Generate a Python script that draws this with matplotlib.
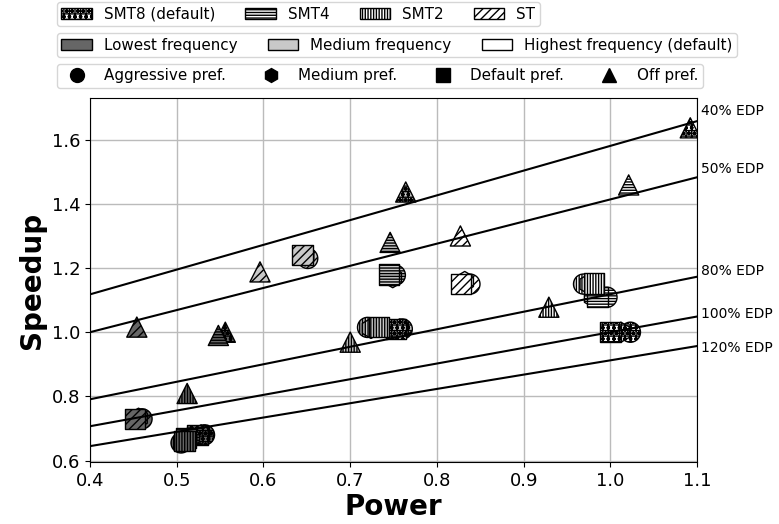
import numpy as np
import matplotlib.pyplot as plt
from matplotlib.patches import Patch
from matplotlib.lines import Line2D

# SMT levels, frequencies, prefetch settings
smt_names = ['SMT8 (default)', 'SMT4', 'SMT2', 'ST']
smt_hatch = ['+++ooo', '------', '||||||', '////']
freq_names = ['Lowest frequency', 'Medium frequency', 'Highest frequency (default)']
freq_color = ['#666666', '#c8c8c8', 'white']
pref_names = ['Aggressive pref.', 'Medium pref.', 'Default pref.', 'Off pref.']
pref_marker = ['o', 'h', 's', '^']

# power[smt][freq][pref], speedup[smt][freq][pref]
power = [
    [[0.532, 0.528, 0.524, 0.556], [0.760, 0.757, 0.753, 0.764], [1.023, 1.012, 1.000, 1.092]],  # SMT8
    [[0.515, 0.513, 0.511, 0.548], [0.752, 0.749, 0.745, 0.746], [0.996, 0.980, 0.985, 1.021]],  # SMT4
    [[0.505, 0.507, 0.509, 0.512], [0.720, 0.724, 0.733, 0.700], [0.969, 0.975, 0.981, 0.929]],  # SMT2
    [[0.460, 0.456, 0.452, 0.454], [0.651, 0.648, 0.645, 0.596], [0.838, 0.832, 0.828, 0.827]],  # ST
]
speedup = [
    [[0.680, 0.680, 0.680, 1.000], [1.010, 1.010, 1.010, 1.437], [1.000, 1.000, 1.000, 1.637]],
    [[0.670, 0.665, 0.670, 0.990], [1.178, 1.170, 1.180, 1.280], [1.109, 1.109, 1.109, 1.459]],
    [[0.655, 0.660, 0.662, 0.809], [1.015, 1.012, 1.015, 0.969], [1.150, 1.150, 1.152, 1.078]],
    [[0.730, 0.732, 0.730, 1.016], [1.230, 1.238, 1.240, 1.188], [1.150, 1.158, 1.150, 1.300]],
]

# EDP reference lines (speedup at left and right edge)
edp_labels = ['40% EDP', '50% EDP', '80% EDP', '100% EDP', '120% EDP']
edp_left = [1.118, 1.0, 0.791, 0.707, 0.645]
edp_right = [1.658, 1.483, 1.173, 1.049, 0.957]
edp_text_y = [1.69, 1.51, 1.19, 1.057, 0.95]

fig = plt.figure(figsize=(7.79, 5.24), dpi=100)
ax = fig.add_axes([0.1155, 0.118, 0.7795, 0.695])

for i in range(len(smt_names)):
    for j in range(len(freq_names)):
        for k in range(len(pref_names)):
            ax.scatter(power[i][j][k], speedup[i][j][k], s=210,
                       marker=pref_marker[k], facecolor=freq_color[j],
                       edgecolor='black', hatch=smt_hatch[i], linewidth=1.0,
                       zorder=3)

for lab, yl, yr, ty in zip(edp_labels, edp_left, edp_right, edp_text_y):
    ax.plot([0.4, 1.1], [yl, yr], color='black', linewidth=1.5, zorder=4)
    ax.text(1.104, ty, lab, fontsize=10, va='center', ha='left')

ax.set_xlim(0.4, 1.1)
ax.set_ylim(0.595, 1.73)
ax.set_xticks([0.4, 0.5, 0.6, 0.7, 0.8, 0.9, 1.0, 1.1])
ax.set_yticks([0.6, 0.8, 1.0, 1.2, 1.4, 1.6])
ax.tick_params(labelsize=13)
ax.grid(True, color='#bbbbbb', linewidth=1.0)
ax.set_axisbelow(True)
ax.set_xlabel('Power', fontsize=20, fontweight='bold', labelpad=2)
ax.set_ylabel('Speedup', fontsize=20, fontweight='bold')

# legends
h1 = [Patch(facecolor='white', edgecolor='black', hatch=h) for h in smt_hatch]
h2 = [Patch(facecolor=c, edgecolor='black') for c in freq_color]
h3 = [Line2D([], [], marker=m, color='black', linestyle='', markersize=10) for m in pref_marker]

kw = dict(loc='upper left', fontsize=10.9, borderaxespad=0, borderpad=0.3)
fig.legend(h1, smt_names, ncol=4, bbox_to_anchor=(0.073, 0.996), **kw)
fig.legend(h2, freq_names, ncol=3, bbox_to_anchor=(0.073, 0.937), **kw)
fig.legend(h3, pref_names, ncol=4, bbox_to_anchor=(0.073, 0.878), **kw)

plt.savefig('out.png', dpi=100)
